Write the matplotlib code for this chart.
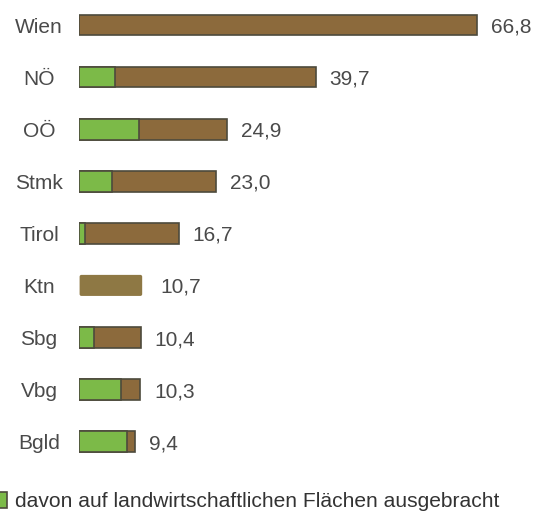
import matplotlib.pyplot as plt
from matplotlib.patches import Rectangle, FancyBboxPatch

plt.rcParams['font.family'] = ['Liberation Sans', 'DejaVu Sans']

regions = ['Wien', 'NÖ', 'OÖ', 'Stmk', 'Tirol', 'Ktn', 'Sbg', 'Vbg', 'Bgld']
totals = [66.8, 39.7, 24.9, 23.0, 16.7, 10.7, 10.4, 10.3, 9.4]
farmland = [0.0, 6.0, 10.1, 5.6, 1.0, 0.0, 2.6, 7.0, 8.0]
labels = ['66,8', '39,7', '24,9', '23,0', '16,7', '10,7', '10,4', '10,3', '9,4']
no_split = ['Ktn']

brown = '#8c6a3c'
green = '#7cba48'
olive = '#8e7844'
edge = '#4d4a3c'
txt = '#4a4a4a'

fig = plt.figure(figsize=(5.35, 5.13), dpi=100)
ax = fig.add_axes([79 / 535, 0, 1 - 79 / 535, 1])
ax.set_xlim(0, 76.5)
ax.set_ylim(9.37, -0.48)
ax.axis('off')

h = 0.40
for i, name in enumerate(regions):
    if name in no_split:
        ax.add_patch(FancyBboxPatch((0.2, i - 0.22 + 0.03), totals[i] - 0.4, 0.44 - 0.06,
                                    boxstyle='round,pad=0.1,rounding_size=0.3',
                                    mutation_aspect=0.12, facecolor=olive, edgecolor='none'))
        gap = 3.0
    else:
        ax.barh(i, totals[i], height=h, color=brown, edgecolor=edge, linewidth=1.2)
        if farmland[i] > 0:
            ax.barh(i, farmland[i], height=h, color=green, edgecolor=edge, linewidth=1.2)
        gap = 2.3
    ax.text(totals[i] + gap, i + 0.04, labels[i], ha='left', va='center',
            fontsize=15, color=txt)
    ax.text(-6.7, i + 0.04, name, ha='center', va='center', fontsize=15, color=txt)

fig.add_artist(Rectangle((-0.005, 0.010), 0.019, 0.03, transform=fig.transFigure,
                         facecolor=green, edgecolor=edge, linewidth=1.2))
fig.text(15 / 535, 0.023, 'davon auf landwirtschaftlichen Flächen ausgebracht',
         ha='left', va='center', fontsize=15.1, color='#333333')

plt.savefig('out.png')
